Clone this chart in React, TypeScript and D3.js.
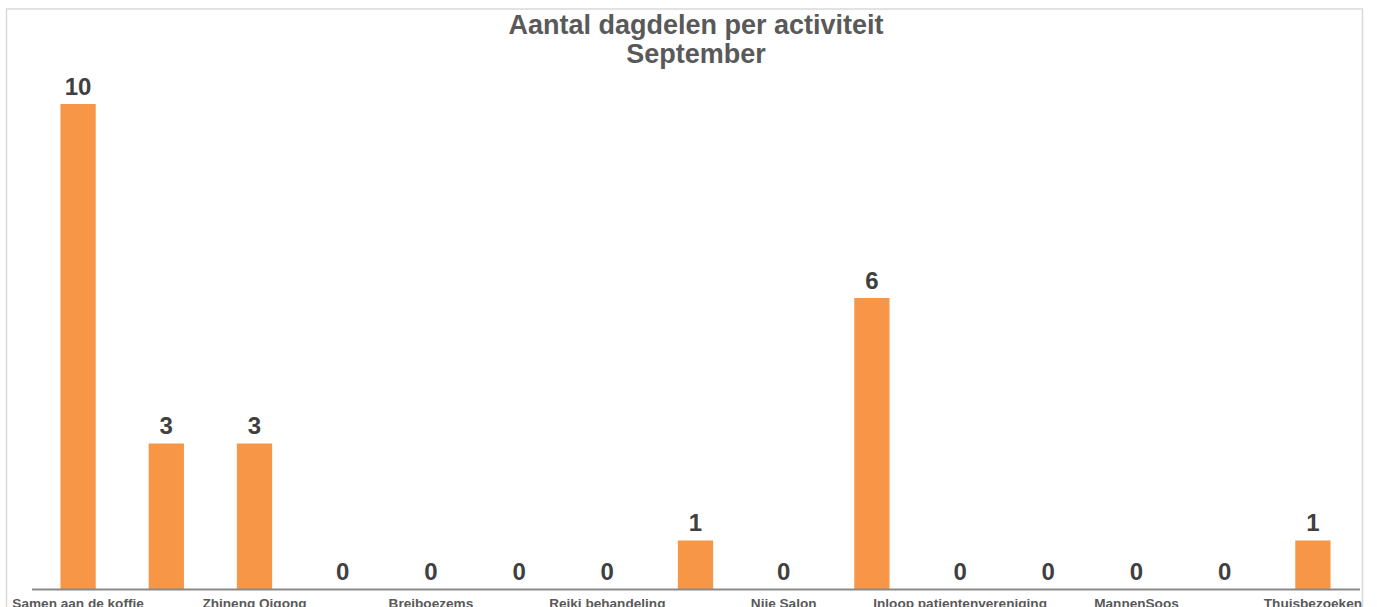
import React from "react";
import * as d3 from "d3";

const categories: string[] = [
  "Samen aan de koffie",
  "",
  "Zhineng Qigong",
  "",
  "Breiboezems",
  "",
  "Reiki behandeling",
  "",
  "Nije Salon",
  "",
  "Inloop patientenvereniging",
  "",
  "MannenSoos",
  "",
  "Thuisbezoeken",
];
const values: number[] = [10, 3, 3, 0, 0, 0, 0, 1, 0, 6, 0, 0, 0, 0, 1];
const titleLines: string[] = ["Aantal dagdelen per activiteit", "September"];

const W = 1377;
const H = 607;
const plot = { left: 34, right: 1357, top: 7, bottom: 589 };

export default function App() {
  const idx = categories.map((_, i) => i);
  const x = d3
    .scaleBand<number>()
    .domain(idx)
    .range([plot.left, plot.right])
    .paddingInner(0.6)
    .paddingOuter(0.3);
  const y = d3.scaleLinear().domain([0, 12]).range([plot.bottom, plot.top]);

  return (
    <div style={{ position: "absolute", left: 0, top: 0 }}>
      <svg width={W} height={H} style={{ display: "block", fontFamily: "'Liberation Sans', Arial, sans-serif" }}>
        <rect x={0} y={0} width={W} height={H} fill="#ffffff" />
        <rect x={6.5} y={9} width={1356} height={700} fill="#ffffff" stroke="#d9d9d9" strokeWidth={1.5} />
        {titleLines.map((t, i) => (
          <text key={i} x={696} y={34 + i * 29} textAnchor="middle" fontSize={27} fontWeight="bold" fill="#595959">
            {t}
          </text>
        ))}
        {values.map((v, i) => (
          <rect key={i} x={x(i)} y={y(v)} width={x.bandwidth()} height={y(0) - y(v)} fill="#F79646" />
        ))}
        <line x1={32} x2={1360} y1={plot.bottom + 0.5} y2={plot.bottom + 0.5} stroke="#898989" strokeWidth={2} />
        {values.map((v, i) => (
          <text
            key={"v" + i}
            x={(x(i) as number) + x.bandwidth() / 2}
            y={y(v) - 9.5}
            textAnchor="middle"
            fontSize={24}
            fontWeight="bold"
            fill="#404040"
          >
            {v}
          </text>
        ))}
        {categories.map((c, i) =>
          i % 2 === 0 ? (
            <text
              key={"c" + i}
              x={(x(i) as number) + x.bandwidth() / 2}
              y={607.5}
              textAnchor="middle"
              fontSize={13.6}
              fontWeight="bold"
              fill="#595959"
            >
              {c}
            </text>
          ) : null
        )}
      </svg>
    </div>
  );
}
